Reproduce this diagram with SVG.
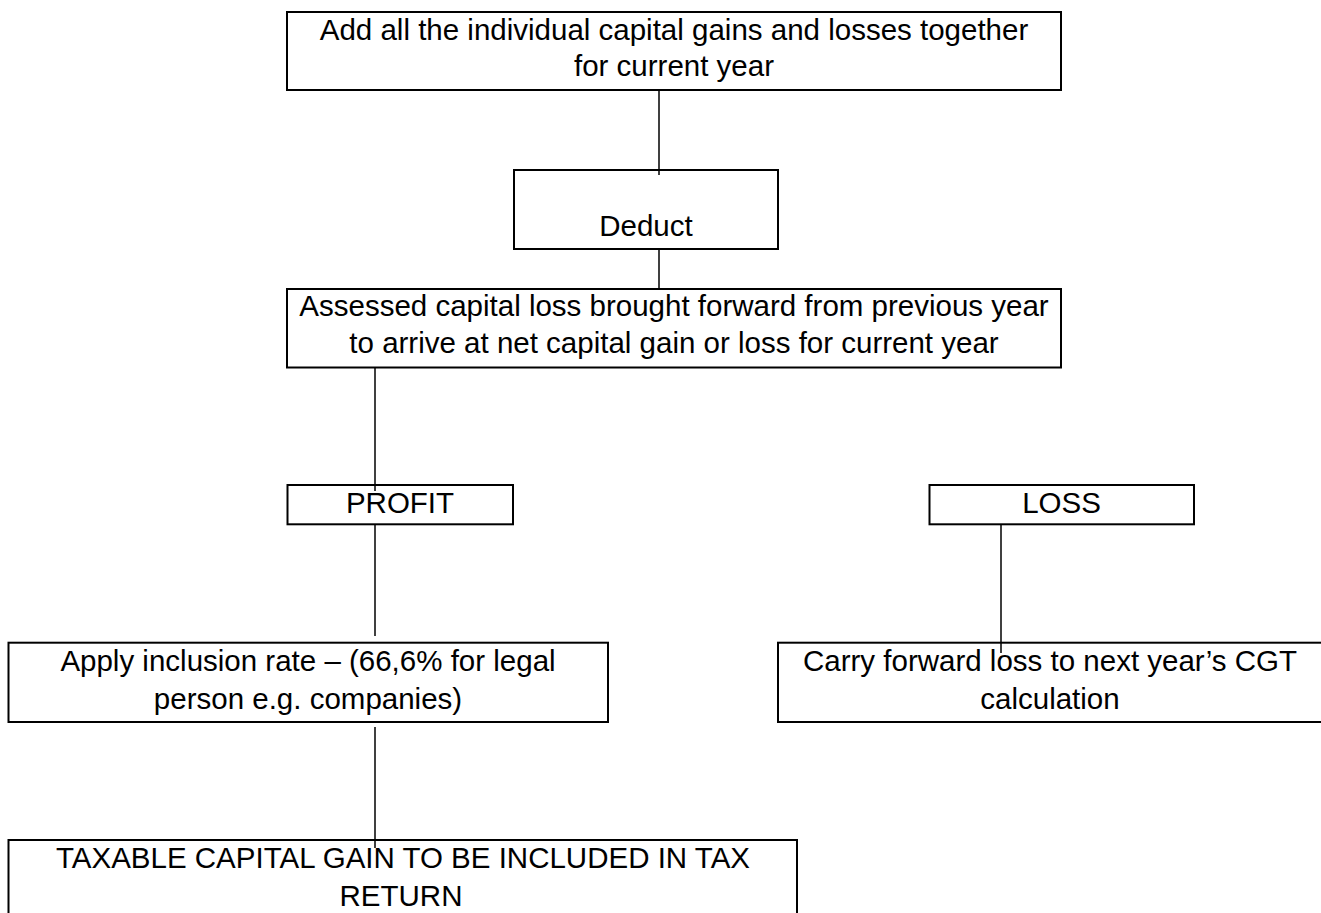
<svg xmlns="http://www.w3.org/2000/svg" width="1321" height="913" viewBox="0 0 1321 913">
  <style>
    .box { fill: #ffffff; stroke: #000000; stroke-width: 2; }
    .lbl { font-family: "Liberation Sans", Arial, sans-serif; font-size: 29.5px; fill: #000000; text-anchor: middle; }
    .conn { stroke: #000000; stroke-width: 1.5; fill: none; }
  </style>
  <rect x="0" y="0" width="1321" height="913" fill="#ffffff"/>

  <g id="node-add">
    <rect class="box" x="287" y="12" width="774" height="78"/>
    <text class="lbl" x="674" y="40">Add all the individual capital gains and losses together</text>
    <text class="lbl" x="674" y="76">for current year</text>
  </g>

  <g id="node-deduct">
    <rect class="box" x="514" y="170" width="264" height="79"/>
    <text class="lbl" x="646" y="236">Deduct</text>
  </g>

  <g id="node-assessed">
    <rect class="box" x="287" y="289" width="774" height="78.5"/>
    <text class="lbl" x="674" y="316">Assessed capital loss brought forward from previous year</text>
    <text class="lbl" x="674" y="353">to arrive at net capital gain or loss for current year</text>
  </g>

  <g id="node-profit">
    <rect class="box" x="287.5" y="485" width="225.5" height="39.3"/>
    <text class="lbl" x="400" y="512.5">PROFIT</text>
  </g>

  <g id="node-loss">
    <rect class="box" x="929.5" y="485" width="264.5" height="39.3"/>
    <text class="lbl" x="1061.5" y="512.5">LOSS</text>
  </g>

  <g id="node-apply">
    <rect class="box" x="8.5" y="642.7" width="599.5" height="79.3"/>
    <text class="lbl" x="308" y="670.7">Apply inclusion rate – (66,6% for legal</text>
    <text class="lbl" x="308" y="709.3">person e.g. companies)</text>
  </g>

  <g id="node-carry">
    <rect class="box" x="778" y="642.7" width="546" height="79.3"/>
    <text class="lbl" x="1050" y="670.7">Carry forward loss to next year’s CGT</text>
    <text class="lbl" x="1050" y="709.3">calculation</text>
  </g>

  <g id="node-taxable">
    <rect class="box" x="8.5" y="840" width="788.5" height="80"/>
    <text class="lbl" x="403" y="867.7">TAXABLE CAPITAL GAIN TO BE INCLUDED IN TAX</text>
    <text class="lbl" x="401" y="906">RETURN</text>
  </g>

  <g id="connectors">
    <line class="conn" x1="659" y1="91" x2="659" y2="175"/>
    <line class="conn" x1="659" y1="250" x2="659" y2="288"/>
    <line class="conn" x1="375" y1="368" x2="375" y2="491"/>
    <line class="conn" x1="375" y1="525" x2="375" y2="636"/>
    <line class="conn" x1="375" y1="727" x2="375" y2="848"/>
    <line class="conn" x1="1001" y1="525" x2="1001" y2="653"/>
  </g>
</svg>
